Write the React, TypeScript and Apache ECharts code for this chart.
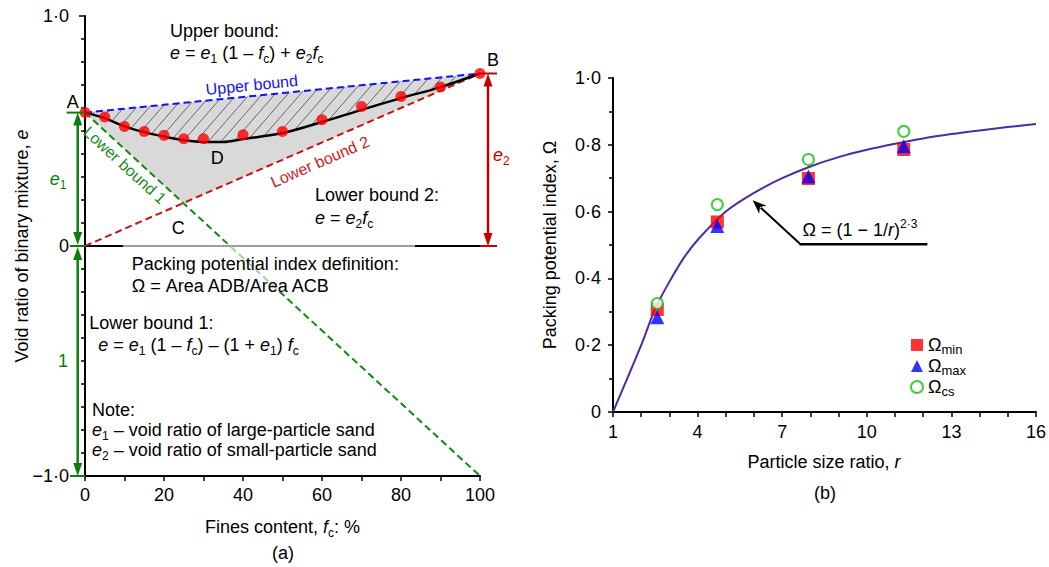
import React, { useEffect, useRef } from 'react';
import * as echarts from 'echarts';

const FONT = "'Liberation Sans', Arial, Helvetica, sans-serif";

// ---- Panel (a): void ratio of a binary sand mixture vs fines content ----
const E1 = 0.58; // void ratio of large-particle sand
const E2 = 0.75; // void ratio of small-particle sand
const finesMeasured = [0, 5, 10, 15, 20, 25, 30, 40, 50, 60, 70, 80, 90, 100];
const voidMeasured = [0.58, 0.561, 0.52, 0.498, 0.481, 0.466, 0.466, 0.484, 0.498, 0.549, 0.607, 0.65, 0.691, 0.75];
const finesCurve = [0, 5, 10, 15, 20, 25, 30, 35, 40, 50, 60, 70, 80, 90, 100];
const voidCurve = [0.58, 0.556, 0.52, 0.495, 0.476, 0.46, 0.452, 0.452, 0.465, 0.491, 0.539, 0.592, 0.643, 0.691, 0.75];
const lowerBound1End = -1; // void ratio reached by lower bound 1 at 100 % fines

// ---- Panel (b): packing potential index vs particle size ratio ----
const ratioMeasured = [2.57, 4.7, 7.93, 11.31];
const omegaMin = [0.307, 0.569, 0.699, 0.786];
const omegaMax = [0.284, 0.557, 0.705, 0.796];
const omegaCs = [0.325, 0.621, 0.756, 0.84];
const ratioCurve = [1, 2, 2.5, 3, 3.5, 4, 5, 6, 7, 8, 9, 10, 11, 12, 13, 14, 15, 16];
const omegaCurve = [0, 0.2, 0.31, 0.39, 0.46, 0.515, 0.6, 0.656, 0.7, 0.735, 0.763, 0.785, 0.803, 0.819, 0.832, 0.843, 0.853, 0.862];
const ratioLabelStep = 3;
// Fitted-curve callout (data coordinates of panel b)
const calloutTail = [7.65, 0.502];
const calloutTip = [5.95, 0.634];
const calloutEnd = [12.15, 0.502];

const GREEN = '#0a800a';
const DARKRED = '#c40000';
const BLUE = '#1010ff';

const RICH: any = {
  n: { fontSize: 18, lineHeight: 24, fontFamily: FONT },
  i: { fontSize: 18, lineHeight: 24, fontFamily: FONT, fontStyle: 'italic' },
  s: { fontSize: 12, lineHeight: 12, fontFamily: FONT, verticalAlign: 'bottom' },
  p: { fontSize: 12, lineHeight: 12, fontFamily: FONT, verticalAlign: 'top' },
};

const txt = (x: number, y: number, text: string, extra: any = {}, z = 30) => ({
  type: 'text',
  x,
  y,
  z,
  silent: true,
  style: {
    text,
    rich: RICH,
    fill: '#000',
    fontSize: 18,
    fontFamily: FONT,
    align: 'left',
    verticalAlign: 'middle',
    ...extra,
  },
});

const decimal = (v: number) => {
  if (v === 0) return '0';
  const s = Math.abs(v).toFixed(1).replace('.', '\u00b7');
  return v < 0 ? '\u2212' + s : s;
};

// point along segment P->Q at fraction t, shifted by `off` px to the left side of travel
const along = (P: number[], Q: number[], t: number, off: number) => {
  const dx = Q[0] - P[0];
  const dy = Q[1] - P[1];
  const len = Math.hypot(dx, dy);
  const nx = dy / len;
  const ny = -dx / len;
  return { x: P[0] + t * dx + off * nx, y: P[1] + t * dy + off * ny, rotation: -Math.atan2(dy, dx) };
};

const vArrow = (x: number, y1: number, y2: number, color: string) => {
  const s = Math.sign(y2 - y1);
  const h = 13;
  const w = 4.5;
  return [
    { type: 'line', shape: { x1: x, y1: y1 + s * h * 0.8, x2: x, y2: y2 - s * h * 0.8 }, style: { stroke: color, lineWidth: 2.5 } },
    { type: 'polygon', shape: { points: [[x, y1], [x - w, y1 + s * h], [x + w, y1 + s * h]] }, style: { fill: color } },
    { type: 'polygon', shape: { points: [[x, y2], [x - w, y2 - s * h], [x + w, y2 - s * h]] }, style: { fill: color } },
  ];
};

const hLine = (x1: number, x2: number, y: number, color: string, w = 2) => ({
  type: 'line',
  shape: { x1, y1: y, x2, y2: y },
  style: { stroke: color, lineWidth: w },
});

function buildOption(): any {
  // corner C: intersection of the two lower bounds
  const tC = E1 / (E1 - lowerBound1End + E2);
  const fcCorner = 100 * tC;
  const eCorner = E2 * tC;

  const fillSeries = {
    type: 'custom',
    coordinateSystem: 'cartesian2d',
    xAxisIndex: 0,
    yAxisIndex: 0,
    z: 1,
    silent: true,
    data: [[0, 0]],
    renderItem: (_p: any, api: any) => {
      const A = api.coord([0, E1]);
      const B = api.coord([100, E2]);
      const C = api.coord([fcCorner, eCorner]);
      const curve = finesCurve.map((f, i) => api.coord([f, voidCurve[i]]));
      const children: any[] = [{ type: 'polygon', shape: { points: [A, C, B] }, style: { fill: '#d9d9d9' } }];
      const k = 1.15;
      const step = 14.6;
      const v = (p: number[]) => k * p[0] + p[1];
      const cross = (pts: number[][], c: number) => {
        for (let i = 0; i < pts.length - 1; i++) {
          const a = v(pts[i]) - c;
          const b = v(pts[i + 1]) - c;
          if ((a <= 0 && b > 0) || (a >= 0 && b < 0)) {
            const t = a / (a - b);
            return [pts[i][0] + t * (pts[i + 1][0] - pts[i][0]), pts[i][1] + t * (pts[i + 1][1] - pts[i][1])];
          }
        }
        return null;
      };
      for (let c = v(A) + step * 0.7; c < v(B); c += step) {
        const p = cross([A, B], c);
        const q = cross(curve, c);
        if (p && q) {
          children.push({ type: 'line', shape: { x1: p[0], y1: p[1], x2: q[0], y2: q[1] }, style: { stroke: '#4a4a4a', lineWidth: 0.8 } });
        }
      }
      return { type: 'group', children };
    },
  };

  const annotationA = {
    type: 'custom',
    coordinateSystem: 'cartesian2d',
    xAxisIndex: 0,
    yAxisIndex: 0,
    z: 6,
    silent: true,
    data: [[0, 0]],
    renderItem: (_p: any, api: any) => {
      const A = api.coord([0, E1]);
      const O = api.coord([0, 0]);
      const M = api.coord([0, -1]);
      const B = api.coord([100, E2]);
      const R0 = api.coord([100, 0]);
      const L1 = api.coord([100, lowerBound1End]);
      const C = api.coord([fcCorner, eCorner]);
      const dMin = Math.min(...voidCurve);
      const D = api.coord([33, dMin]);
      const gx = O[0] - 7.3;
      const rx = B[0] + 8;
      const ub = along(A, B, 0.425, 11);
      const lb2 = along(O, B, 0.578, -16.8);
      const lb1 = along(A, L1, 0.121, -11.7);
      const lbl = (pos: any, text: string, color: string) => ({
        type: 'text',
        x: pos.x,
        y: pos.y,
        rotation: pos.rotation,
        style: { text, fill: color, fontSize: 16, fontFamily: FONT, align: 'center', verticalAlign: 'middle' },
      });
      const children: any[] = [
        hLine(A[0] - 18.3, A[0], A[1], GREEN),
        hLine(O[0] - 15, O[0], O[1], GREEN),
        hLine(M[0] - 15, M[0], M[1], GREEN),
        ...vArrow(gx, A[1], O[1] - 1, GREEN),
        ...vArrow(gx, O[1] + 1, M[1], GREEN),
        hLine(B[0], B[0] + 17, B[1], DARKRED),
        hLine(R0[0], R0[0] + 17, R0[1], DARKRED),
        ...vArrow(rx, B[1], R0[1], DARKRED),
        lbl(ub, 'Upper bound', BLUE),
        lbl(lb2, 'Lower bound 2', '#cc1a1a'),
        lbl(lb1, 'Lower bound 1', '#1a8a1a'),
        txt(A[0] - 12.3, A[1] - 11, '{n|A}', { align: 'center' }),
        txt(B[0] + 13, B[1] - 13.5, '{n|B}', { align: 'center' }),
        txt(C[0] - 5, C[1] + 25, '{n|C}', { align: 'center' }),
        txt(D[0] + 2, D[1] + 16, '{n|D}', { align: 'center' }),
        txt(O[0] - 27, (A[1] + O[1]) / 2, '{i|e}{s|1}', { align: 'center', fill: GREEN }),
        txt(O[0] - 22, (O[1] + M[1]) / 2, '{n|1}', { align: 'center', fill: GREEN }),
        txt(B[0] + 13, (B[1] + R0[1]) / 2 - 5, '{i|e}{s|2}', { align: 'left', fill: DARKRED }),
      ];
      return { type: 'group', children };
    },
  };

  const annotationB = {
    type: 'custom',
    coordinateSystem: 'cartesian2d',
    xAxisIndex: 1,
    yAxisIndex: 1,
    z: 6,
    silent: true,
    data: [[1, 0]],
    renderItem: (_p: any, api: any) => {
      const T = api.coord(calloutTail);
      const P = api.coord(calloutTip);
      const E = api.coord(calloutEnd);
      const dx = P[0] - T[0];
      const dy = P[1] - T[1];
      const len = Math.hypot(dx, dy);
      const ux = dx / len;
      const uy = dy / len;
      const h = 14;
      const w = 5.5;
      const bx = P[0] - ux * h;
      const by = P[1] - uy * h;
      return {
        type: 'group',
        children: [
          { type: 'line', shape: { x1: T[0], y1: T[1], x2: bx + ux * 3, y2: by + uy * 3 }, style: { stroke: '#000', lineWidth: 2 } },
          { type: 'polygon', shape: { points: [P, [bx - uy * w, by + ux * w], [bx + ux * 4, by + uy * 4], [bx + uy * w, by - ux * w]] }, style: { fill: '#000' } },
          { type: 'line', shape: { x1: T[0] - 1, y1: T[1], x2: E[0], y2: E[1] }, style: { stroke: '#000', lineWidth: 2.5 } },
          txt(T[0] + 2, T[1] - 14, '{n|\u03a9 = (1 \u2212 1/}{i|r}{n|)}{p|2\u00b73}'),
        ],
      };
    },
  };

  const dashed = (data: number[][], color: string) => ({
    type: 'line',
    xAxisIndex: 0,
    yAxisIndex: 0,
    data,
    symbol: 'none',
    silent: true,
    z: 3,
    lineStyle: { color, width: 2, type: [7, 4] },
  });

  const axisLine = { show: true, onZero: false, lineStyle: { color: '#000', width: 2 } };
  const tick = (length: number) => ({ show: true, length, lineStyle: { color: '#000', width: 1.5 } });
  const label = (margin: number, extra: any = {}) => ({ color: '#000', fontSize: 18, fontFamily: FONT, margin, ...extra });

  return {
    animation: false,
    backgroundColor: '#fff',
    textStyle: { fontFamily: FONT },
    grid: [
      { left: 85, top: 16, width: 395, height: 460, containLabel: false },
      { left: 613, top: 78, width: 424, height: 334, containLabel: false },
    ],
    xAxis: [
      {
        gridIndex: 0, type: 'value', min: 0, max: 100, interval: 20,
        axisLine, axisTick: tick(5),
        minorTick: { ...tick(5), splitNumber: 2 },
        splitLine: { show: false }, minorSplitLine: { show: false },
        axisLabel: label(10),
      },
      {
        gridIndex: 1, type: 'value', min: 1, max: 16, interval: 1,
        axisLine, axisTick: tick(5),
        splitLine: { show: false },
        axisLabel: label(11, {
          interval: 0,
          hideOverlap: false,
          formatter: (v: number) => ((v - 1) % ratioLabelStep === 0 ? String(v) : ''),
        }),
      },
    ],
    yAxis: [
      {
        gridIndex: 0, type: 'value', min: -1, max: 1, interval: 1,
        axisLine, axisTick: tick(6),
        minorTick: { ...tick(4), splitNumber: 10 },
        splitLine: { show: false }, minorSplitLine: { show: false },
        axisLabel: label(16, { formatter: decimal }),
      },
      {
        gridIndex: 1, type: 'value', min: 0, max: 1, interval: 0.2,
        axisLine, axisTick: tick(5),
        minorTick: { ...tick(4), splitNumber: 2 },
        splitLine: { show: false }, minorSplitLine: { show: false },
        axisLabel: label(12, { formatter: decimal }),
      },
    ],
    legend: {
      orient: 'vertical',
      left: 905,
      top: 331,
      itemWidth: 12,
      itemHeight: 12,
      itemGap: 1,
      selectedMode: false,
      data: [
        { name: 'min', icon: 'rect' },
        { name: 'max', icon: 'triangle' },
        { name: 'cs', icon: 'emptyCircle' },
      ],
      formatter: (n: string) => `{o|\u03a9}{s|${n}}`,
      textStyle: {
        color: '#000',
        fontFamily: FONT,
        fontSize: 18,
        rich: {
          o: { fontSize: 18, lineHeight: 22, fontFamily: FONT, color: '#000' },
          s: { fontSize: 13, lineHeight: 12, fontFamily: FONT, color: '#000', verticalAlign: 'bottom' },
        },
      },
    },
    graphic: [
      // translucent backing behind the definition note
      { type: 'rect', z: 25, silent: true, shape: { x: 123, y: 243.5, width: 292, height: 48 }, style: { fill: 'rgba(255,255,255,0.62)' } },
      txt(170, 31, '{n|Upper bound:}'),
      txt(170, 53, '{i|e}{n| = }{i|e}{s|1}{n| (1 \u2013 }{i|f}{s|c}{n|) + }{i|e}{s|2}{i|f}{s|c}'),
      txt(315, 195, '{n|Lower bound 2:}'),
      txt(315, 218, '{i|e}{n| = }{i|e}{s|2}{i|f}{s|c}'),
      txt(131.7, 264, '{n|Packing potential index definition:}'),
      txt(131.7, 286, '{n|\u03a9 = Area ADB/Area ACB}'),
      txt(89.3, 323, '{n|Lower bound 1:}'),
      txt(98.3, 345, '{i|e}{n| = }{i|e}{s|1}{n| (1 \u2013 }{i|f}{s|c}{n|) \u2013 (1 + }{i|e}{s|1}{n|) }{i|f}{s|c}'),
      txt(92, 410, '{n|Note:}'),
      txt(92, 430, '{i|e}{s|1}{n| \u2013 void ratio of large-particle sand}'),
      txt(92, 450, '{i|e}{s|2}{n| \u2013 void ratio of small-particle sand}'),
      txt(282.5, 527, '{n|Fines content, }{i|f}{s|c}{n|: %}', { align: 'center' }),
      txt(283, 553, '{n|(a)}', { align: 'center' }),
      { ...txt(22, 246, '{n|Void ratio of binary mixture, }{i|e}', { align: 'center' }), rotation: Math.PI / 2 },
      txt(824, 462, '{n|Particle size ratio, }{i|r}', { align: 'center' }),
      txt(825, 493, '{n|(b)}', { align: 'center' }),
      { ...txt(550, 245, '{n|Packing potential index, \u03a9}', { align: 'center' }), rotation: Math.PI / 2 },
    ],
    series: [
      fillSeries,
      dashed([[0, E1], [100, E2]], BLUE),
      dashed([[0, 0], [100, E2]], '#cc1010'),
      dashed([[0, E1], [100, lowerBound1End]], '#108a10'),
      {
        type: 'line', xAxisIndex: 0, yAxisIndex: 0, symbol: 'none', silent: true, z: 2,
        data: [[0, 0], [100, 0]],
        lineStyle: { color: '#000', width: 2 },
      },
      {
        type: 'line', xAxisIndex: 0, yAxisIndex: 0, symbol: 'none', silent: true, z: 4,
        smooth: 0.35,
        data: finesCurve.map((f, i) => [f, voidCurve[i]]),
        lineStyle: { color: '#000', width: 2.5 },
      },
      {
        type: 'scatter', xAxisIndex: 0, yAxisIndex: 0, silent: true, z: 5, clip: false,
        symbol: 'circle', symbolSize: 11,
        data: finesMeasured.map((f, i) => [f, voidMeasured[i]]),
        itemStyle: { color: '#ff0000' },
      },
      annotationA,
      {
        type: 'line', xAxisIndex: 1, yAxisIndex: 1, symbol: 'none', silent: true, z: 2,
        smooth: 0.3,
        data: ratioCurve.map((r, i) => [r, omegaCurve[i]]),
        lineStyle: { color: '#4f2aa6', width: 2 },
      },
      {
        name: 'min', type: 'scatter', xAxisIndex: 1, yAxisIndex: 1, silent: true, z: 3,
        symbol: 'rect', symbolSize: 13,
        data: ratioMeasured.map((r, i) => [r, omegaMin[i]]),
        itemStyle: { color: '#ff0000' },
      },
      {
        name: 'max', type: 'scatter', xAxisIndex: 1, yAxisIndex: 1, silent: true, z: 4,
        symbol: 'triangle', symbolSize: 14,
        data: ratioMeasured.map((r, i) => [r, omegaMax[i]]),
        itemStyle: { color: '#0000ff' },
      },
      {
        name: 'cs', type: 'scatter', xAxisIndex: 1, yAxisIndex: 1, silent: true, z: 5,
        symbol: 'emptyCircle', symbolSize: 11,
        data: ratioMeasured.map((r, i) => [r, omegaCs[i]]),
        itemStyle: { color: '#11c011', borderWidth: 2 },
      },
      annotationB,
    ],
  };
}

export default function App() {
  const ref = useRef<HTMLDivElement>(null);
  useEffect(() => {
    if (!ref.current) return;
    const chart = echarts.init(ref.current, null, { renderer: 'svg' });
    chart.setOption(buildOption());
    return () => chart.dispose();
  }, []);
  return (
    <div
      ref={ref}
      style={{ position: 'absolute', left: 0, top: 0, width: 1049, height: 567, background: '#fff' }}
    />
  );
}
